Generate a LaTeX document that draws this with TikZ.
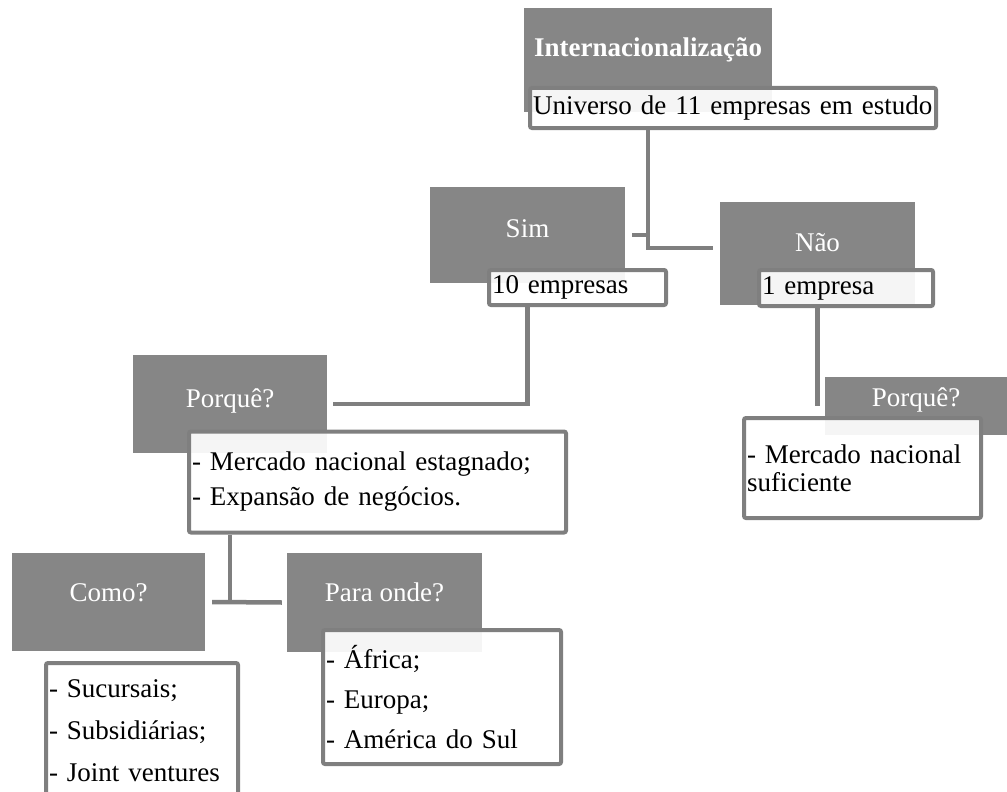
\documentclass[tikz,border=0pt]{standalone}
\usepackage{fontspec}
\setmainfont{Liberation Serif}
\definecolor{headgray}{RGB}{134,134,134}
\definecolor{linegray}{RGB}{127,127,127}
\begin{document}
\begin{tikzpicture}[x=1pt,y=-1pt]
\tikzstyle{head}=[anchor=center,rectangle,fill=headgray,text=white,inner sep=0pt,text height=18pt,font=\fontsize{27}{32}\selectfont]
\tikzstyle{detail}=[anchor=center,rectangle,rounded corners=2pt,draw=linegray,line width=4pt,fill=white,fill opacity=0.92,text opacity=1,inner xsep=3pt,inner ysep=0pt,align=left,font=\fontsize{27}{32}\selectfont]
\tikzstyle{link}=[draw=linegray,line width=4.5pt]

\useasboundingbox (0,0) rectangle (1007,792);

\node [head,minimum width=248pt,minimum height=104pt,text depth=24pt,font=\bfseries\fontsize{27}{32}\selectfont] at (648,60) (intl) {Internacionalização};
\node [detail,text width=400pt,minimum height=40pt] at (733,108) (univ) {Universo de 11 empresas em estudo};

\node [head,minimum width=195pt,minimum height=96pt,text depth=14pt] at (527.5,235) (yes) {Sim};
\node [detail,text width=171pt,minimum height=35pt] at (577.5,287.5) (yescount) {10 empresas};

\node [head,minimum width=195pt,minimum height=103pt,text depth=23pt] at (817.5,253.5) (no) {Não};
\node [detail,text width=168pt,minimum height=36pt] at (846,288) (nocount) {1 empresa};

\node [head,minimum width=194pt,minimum height=98pt,text depth=12pt] at (230,404) (whyyes) {Porquê?};
\node [detail,text width=371pt,minimum height=101pt,font=\fontsize{27}{35}\selectfont] at (377.5,482) (whyyeslist) {- Mercado nacional estagnado;\\- Expansão de negócios.};

\node [head,minimum width=182pt,minimum height=58pt,text depth=18pt] at (916,406) (whyno) {Porquê?};
\node [detail,text width=231pt,minimum height=100pt,font=\fontsize{27}{28}\selectfont] at (862.5,468) (whynolist) {- Mercado nacional\\suficiente};

\node [head,minimum width=193pt,minimum height=98pt,text depth=20pt] at (108.5,602) (how) {Como?};
\node [detail,text width=186pt,minimum height=135pt,font=\fontsize{27}{42}\selectfont] at (142,730.5) (howlist) {- Sucursais;\\- Subsidiárias;\\- Joint ventures};

\node [head,minimum width=195pt,minimum height=99pt,text depth=21pt] at (384.5,602.5) (where) {Para onde?};
\node [detail,text width=232pt,minimum height=134pt,font=\fontsize{27}{40}\selectfont] at (442,697) (wherelist) {- África;\\- Europa;\\- América do Sul};

\draw [link] (intl |- univ.south) |- ([xshift=-7pt,yshift=5.5pt]no.west);
\draw [link] ([xshift=7pt]yes.east) -- (yes.east -| intl);
\draw [link] (yes |- yescount.south) |- ([xshift=6pt]whyyes.east);
\draw [link] (no |- nocount.south) -- (no |- whyno.west);
\draw [link] (whyyes |- whyyeslist.south) -- (whyyes |- how.east);
\draw [link] ([xshift=7pt]how.east) -- ([xshift=-5pt]where.west);
\end{tikzpicture}
\end{document}
